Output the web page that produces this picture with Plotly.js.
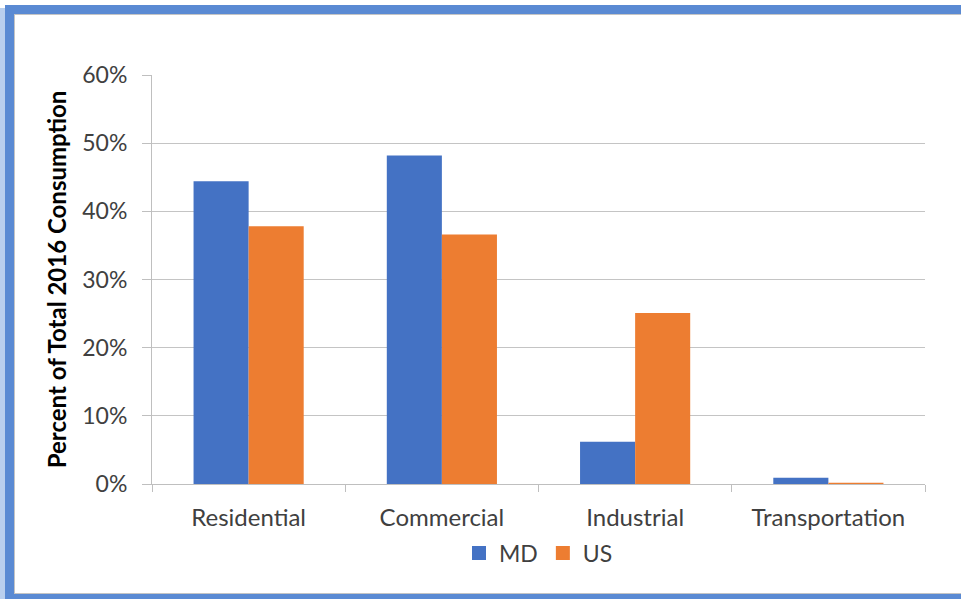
<!DOCTYPE html>
<html>
<head>
<meta charset="utf-8">
<script src="https://cdn.plot.ly/plotly-3.0.1.min.js"></script>
<style>
html,body{margin:0;padding:0;width:961px;height:599px;overflow:hidden;background:#ffffff;}
#strip{position:absolute;left:0;top:8px;width:5px;height:600px;background:#b9cfee;}
#frame{position:absolute;left:5px;top:5px;width:1000px;height:580px;border:9px solid #5a8ad3;border-right:none;}
#inner{position:absolute;left:14px;top:14px;width:1000px;height:580px;border-top:1px solid #c4c4c4;border-left:1px solid #c4c4c4;border-bottom:1px solid #c4c4c4;box-sizing:border-box;}
#chart{position:absolute;left:0;top:0;width:961px;height:599px;}
</style>
</head>
<body>
<div id="strip"></div>
<div id="frame"></div>
<div id="inner"></div>
<div id="chart"></div>
<script>
const categories = ["Residential", "Commercial", "Industrial", "Transportation"];
const mdValues = [0.444, 0.482, 0.062, 0.009];
const usValues = [0.378, 0.366, 0.251, 0.002];
const seriesNames = ["MD", "US"];
const seriesColors = ["#4472C4", "#ED7D31"];
const yTickValues = [0, 0.1, 0.2, 0.3, 0.4, 0.5, 0.6];

const font = "Lato, 'Open Sans', sans-serif";
const data = [
  {type: "bar", name: seriesNames[0], x: categories, y: mdValues, marker: {color: seriesColors[0]}, showlegend: false},
  {type: "bar", name: seriesNames[1], x: categories, y: usValues, marker: {color: seriesColors[1]}, showlegend: false},
  {type: "scatter", mode: "markers", name: seriesNames[0], x: [null], y: [null],
   marker: {symbol: "square", size: 14, color: seriesColors[0]}},
  {type: "scatter", mode: "markers", name: seriesNames[1], x: [null], y: [null],
   marker: {symbol: "square", size: 14, color: seriesColors[1]}}
];
const layout = {
  width: 961, height: 599,
  paper_bgcolor: "rgba(0,0,0,0)", plot_bgcolor: "rgba(0,0,0,0)",
  margin: {l: 152, r: 36, t: 75, b: 115, pad: 0},
  barmode: "group", bargap: 0.43, bargroupgap: 0,
  font: {family: font, color: "#404040", size: 22},
  showlegend: true,
  legend: {orientation: "h", x: 0.5, xanchor: "center", y: -0.169, yanchor: "middle",
           font: {family: font, size: 23, color: "#404040"}, traceorder: "normal", itemwidth: 30},
  xaxis: {type: "category", categoryorder: "array", categoryarray: categories,
          tickson: "boundaries", ticks: "outside", ticklen: 7, tickcolor: "#bfbfbf", tickwidth: 1,
          showline: true, linecolor: "#bfbfbf", linewidth: 1, showgrid: false, zeroline: false,
          ticklabelstandoff: 12,
          tickfont: {family: font, size: 24, color: "#404040"}, fixedrange: true},
  yaxis: {range: [0, 0.6], tickvals: yTickValues, tickformat: ".0%", ticks: "outside", ticklen: 9,
          tickcolor: "#bfbfbf", showline: true, linecolor: "#bfbfbf", showgrid: true, gridcolor: "#c4c4c4",
          zeroline: false, ticklabelstandoff: 10, tickfont: {family: font, size: 23, color: "#404040"},
          title: {text: "Percent of Total 2016 Consumption", font: {family: font, size: 24, color: "#000000", weight: "bold"}, standoff: 8}}
};
Plotly.newPlot("chart", data, layout, {displayModeBar: false, staticPlot: true});
</script>
</body>
</html>
